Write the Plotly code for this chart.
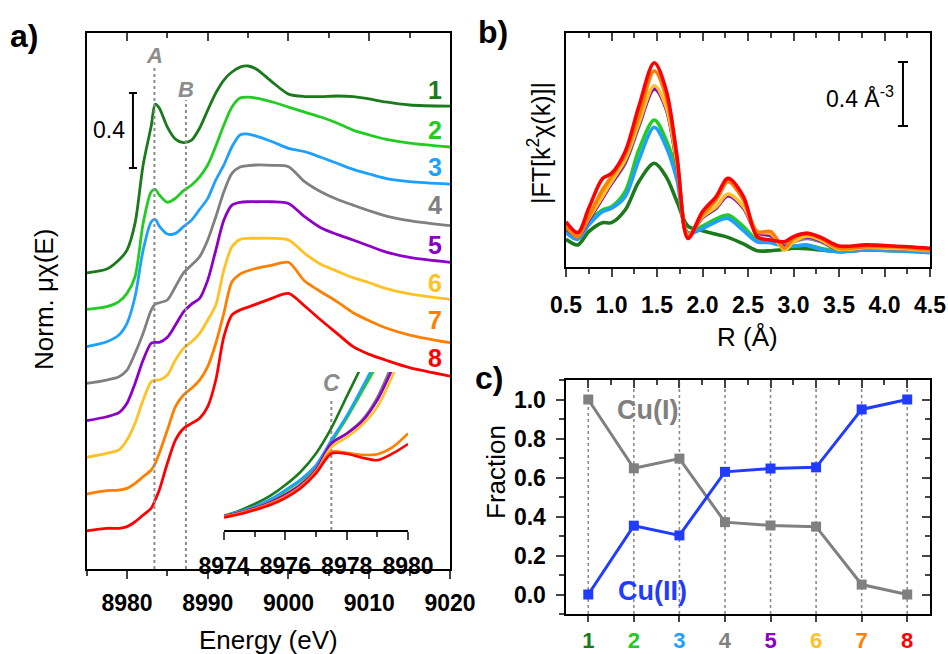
import plotly.graph_objects as go

FONT = "Liberation Sans, Arial, sans-serif"

# ---------------- panel a: Cu K-edge XANES, stacked ----------------
energy = [8975, 8977.5, 8979, 8980, 8981, 8982, 8983, 8983.5, 8984, 8985, 8986,
          8987, 8988, 8989, 8990, 8991, 8992, 8993, 8994, 8995, 8996, 8998,
          9000, 9002, 9004, 9006, 9008, 9010, 9012, 9015, 9020]

# normalised absorption, each spectrum shifted vertically for display
mu_1 = [1.580, 1.600, 1.648, 1.701, 1.845, 2.155, 2.363, 2.480, 2.459, 2.357, 2.293,
        2.274, 2.288, 2.352, 2.448, 2.539, 2.608, 2.651, 2.677, 2.683, 2.667, 2.597,
        2.533, 2.520, 2.520, 2.523, 2.520, 2.507, 2.491, 2.475, 2.469]
mu_2 = [1.385, 1.399, 1.426, 1.470, 1.559, 1.844, 2.012, 2.025, 1.995, 1.956, 1.977,
        2.018, 2.048, 2.092, 2.155, 2.256, 2.368, 2.464, 2.512, 2.517, 2.512, 2.491,
        2.464, 2.437, 2.411, 2.379, 2.341, 2.315, 2.293, 2.272, 2.251]
mu_3 = [1.186, 1.212, 1.248, 1.310, 1.452, 1.701, 1.852, 1.865, 1.829, 1.787, 1.790,
        1.826, 1.861, 1.918, 1.977, 2.075, 2.155, 2.252, 2.315, 2.320, 2.309, 2.279,
        2.244, 2.226, 2.196, 2.164, 2.132, 2.107, 2.084, 2.066, 2.053]
mu_4 = [0.990, 1.008, 1.026, 1.061, 1.150, 1.257, 1.381, 1.413, 1.420, 1.435, 1.506,
        1.580, 1.621, 1.666, 1.755, 1.879, 2.012, 2.110, 2.144, 2.151, 2.155, 2.153,
        2.146, 2.066, 2.012, 1.972, 1.941, 1.911, 1.884, 1.858, 1.831]
mu_5 = [0.791, 0.812, 0.834, 0.884, 0.990, 1.115, 1.204, 1.209, 1.209, 1.236, 1.301,
        1.372, 1.413, 1.444, 1.541, 1.701, 1.861, 1.941, 1.956, 1.959, 1.959, 1.959,
        1.950, 1.879, 1.820, 1.785, 1.755, 1.723, 1.692, 1.662, 1.636]
mu_6 = [0.596, 0.617, 0.635, 0.688, 0.777, 0.901, 0.999, 1.008, 1.008, 1.035, 1.115,
        1.177, 1.212, 1.257, 1.328, 1.408, 1.595, 1.719, 1.758, 1.764, 1.764, 1.764,
        1.755, 1.684, 1.625, 1.589, 1.554, 1.527, 1.497, 1.467, 1.438]
mu_7 = [0.400, 0.418, 0.421, 0.430, 0.457, 0.492, 0.528, 0.564, 0.617, 0.741, 0.866,
        0.928, 0.964, 1.008, 1.079, 1.204, 1.365, 1.532, 1.573, 1.591, 1.604, 1.621,
        1.636, 1.536, 1.479, 1.426, 1.367, 1.324, 1.287, 1.248, 1.207]
mu_8 = [0.203, 0.217, 0.217, 0.226, 0.252, 0.288, 0.324, 0.368, 0.421, 0.564, 0.688,
        0.750, 0.777, 0.804, 0.866, 1.008, 1.239, 1.355, 1.381, 1.397, 1.413, 1.445,
        1.470, 1.403, 1.328, 1.257, 1.186, 1.145, 1.115, 1.074, 1.029]

sample_names = ["1", "2", "3", "4", "5", "6", "7", "8"]
sample_colors = ["#1b7a1b", "#22cc22", "#1ea0ff", "#808080",
                 "#8c00c8", "#ffc125", "#ff8000", "#ff0000"]
label_y = [2.555, 2.341, 2.144, 1.941, 1.728, 1.525, 1.328, 1.125]

feature_names = ["A", "B"]
feature_energy = [8983.4, 8987.3]
feature_top = [2.672, 2.501]
feature_label_y = [2.741, 2.560]

scale_a = 0.4
scale_a_x = 8980.74
scale_a_mid = 2.339

# ---------------- inset: pre-edge region ----------------
inset_e_1 = [8974, 8974.5, 8975, 8975.5, 8976, 8976.5, 8977, 8977.5, 8978, 8978.4]
inset_1 = [0.040, 0.055, 0.074, 0.097, 0.128, 0.166, 0.218, 0.290, 0.380, 0.451]
inset_e_2 = [8974, 8974.5, 8975, 8975.5, 8976, 8976.5, 8977, 8977.5, 8978, 8978.5, 8978.87]
inset_2 = [0.040, 0.052, 0.066, 0.085, 0.111, 0.141, 0.180, 0.250, 0.318, 0.394, 0.451]
inset_e_3 = [8974, 8974.5, 8975, 8975.5, 8976, 8976.5, 8977, 8977.5, 8978, 8978.5, 8978.78]
inset_3 = [0.040, 0.052, 0.066, 0.087, 0.114, 0.144, 0.185, 0.256, 0.325, 0.405, 0.451]
inset_e_4 = [8974, 8974.5, 8975, 8975.5, 8976, 8976.5, 8977, 8977.5, 8978, 8978.5, 8979, 8979.38]
inset_4 = [0.040, 0.050, 0.063, 0.079, 0.102, 0.131, 0.174, 0.245, 0.275, 0.313, 0.378, 0.451]
inset_e_5 = [8974, 8974.5, 8975, 8975.5, 8976, 8976.5, 8977, 8977.5, 8978, 8978.5, 8979, 8979.45]
inset_5 = [0.040, 0.049, 0.062, 0.078, 0.100, 0.128, 0.171, 0.247, 0.274, 0.309, 0.370, 0.451]
inset_e_6 = [8974, 8974.5, 8975, 8975.5, 8976, 8976.5, 8977, 8977.5, 8978, 8978.5, 8979, 8979.55]
inset_6 = [0.038, 0.047, 0.059, 0.074, 0.095, 0.123, 0.166, 0.236, 0.264, 0.299, 0.351, 0.451]
inset_e_7 = [8974, 8974.5, 8975, 8975.5, 8976, 8976.5, 8977, 8977.5, 8978, 8978.5, 8979, 8979.5, 8980]
inset_7 = [0.038, 0.047, 0.060, 0.075, 0.095, 0.123, 0.166, 0.223, 0.220, 0.214, 0.216, 0.236, 0.275]
inset_e_8 = [8974, 8974.5, 8975, 8975.5, 8976, 8976.5, 8977, 8977.5, 8978, 8978.5, 8979, 8979.5, 8980]
inset_8 = [0.036, 0.045, 0.057, 0.071, 0.091, 0.119, 0.161, 0.218, 0.217, 0.206, 0.199, 0.218, 0.245]

feature_c_energy = 8977.5
feature_c_top = 0.375
feature_c_label_y = 0.419

# ---------------- panel b: Fourier transform magnitude ----------------
r_grid = [0.5, 0.63, 0.75, 0.9, 1.0, 1.15, 1.3, 1.47, 1.6, 1.72, 1.84, 2.0, 2.15,
          2.28, 2.45, 2.6, 2.75, 2.9, 3.0, 3.15, 3.3, 3.5, 3.8, 4.1, 4.5]
ft_1 = [0.173, 0.138, 0.221, 0.277, 0.277, 0.356, 0.533, 0.648, 0.565, 0.408, 0.256,
        0.227, 0.204, 0.185, 0.144, 0.102, 0.102, 0.110, 0.117, 0.115, 0.106, 0.096,
        0.106, 0.102, 0.096]
ft_2 = [0.231, 0.185, 0.283, 0.356, 0.377, 0.471, 0.731, 0.919, 0.794, 0.585, 0.215,
        0.256, 0.300, 0.325, 0.252, 0.169, 0.163, 0.138, 0.131, 0.138, 0.117, 0.100,
        0.110, 0.106, 0.100]
ft_3 = [0.215, 0.173, 0.263, 0.346, 0.367, 0.440, 0.669, 0.873, 0.752, 0.544, 0.210,
        0.240, 0.283, 0.304, 0.227, 0.158, 0.152, 0.127, 0.131, 0.135, 0.110, 0.096,
        0.106, 0.102, 0.090]
ft_4 = [0.252, 0.185, 0.304, 0.450, 0.523, 0.648, 0.877, 1.123, 0.992, 0.638, 0.200,
        0.310, 0.367, 0.450, 0.367, 0.215, 0.194, 0.131, 0.158, 0.179, 0.158, 0.106,
        0.117, 0.113, 0.102]
ft_5 = [0.242, 0.194, 0.294, 0.429, 0.523, 0.658, 0.888, 1.113, 0.992, 0.638, 0.200,
        0.310, 0.371, 0.446, 0.371, 0.215, 0.200, 0.127, 0.169, 0.190, 0.165, 0.110,
        0.121, 0.117, 0.106]
ft_6 = [0.263, 0.200, 0.304, 0.440, 0.533, 0.669, 0.898, 1.133, 1.002, 0.648, 0.200,
        0.315, 0.377, 0.456, 0.377, 0.221, 0.210, 0.106, 0.158, 0.194, 0.169, 0.110,
        0.121, 0.117, 0.102]
ft_7 = [0.252, 0.190, 0.315, 0.481, 0.565, 0.700, 0.940, 1.227, 1.065, 0.669, 0.190,
        0.325, 0.419, 0.533, 0.419, 0.221, 0.221, 0.117, 0.179, 0.210, 0.179, 0.117,
        0.127, 0.127, 0.106]
ft_8 = [0.283, 0.215, 0.367, 0.552, 0.585, 0.721, 1.002, 1.277, 1.106, 0.690, 0.179,
        0.346, 0.440, 0.554, 0.440, 0.190, 0.169, 0.158, 0.190, 0.210, 0.185, 0.131,
        0.138, 0.131, 0.117]

scale_b = 0.4
scale_b_x = 4.203
scale_b_mid = 1.081

# ---------------- panel c: linear-combination fractions ----------------
samples = [1, 2, 3, 4, 5, 6, 7, 8]
cu1_fraction = [1.0, 0.647, 0.697, 0.371, 0.354, 0.348, 0.051, 0.0]
cu2_fraction = [0.0, 0.353, 0.303, 0.629, 0.646, 0.652, 0.949, 1.0]
frac_min, frac_max = -0.1, 1.1

CU1_COLOR = "#808080"
CU2_COLOR = "#1f3cff"
DOT_COLOR = "#8c8c8c"

W, H = 948, 654


def px_x(px):
    return px / W


def px_y(py):
    return 1 - py / H


fig = go.Figure()

# panel a spectra
mu_all = [mu_1, mu_2, mu_3, mu_4, mu_5, mu_6, mu_7, mu_8]
for name, ys, col in zip(sample_names, mu_all, sample_colors):
    fig.add_trace(go.Scatter(x=energy, y=ys, mode="lines", name=name,
                             line=dict(color=col, width=2.8, shape="spline", smoothing=0.8),
                             xaxis="x", yaxis="y", showlegend=False))

for e, top in zip(feature_energy, feature_top):
    fig.add_trace(go.Scatter(x=[e, e], y=[0, top], mode="lines",
                             line=dict(color=DOT_COLOR, width=2, dash="dot"),
                             xaxis="x", yaxis="y", showlegend=False, hoverinfo="skip"))

# 0.4 scale bar
fig.add_trace(go.Scatter(x=[scale_a_x], y=[scale_a_mid], mode="markers",
                         marker=dict(size=1, color="rgba(0,0,0,0)"),
                         error_y=dict(type="constant", value=scale_a / 2, color="black",
                                      thickness=2, width=4),
                         xaxis="x", yaxis="y", showlegend=False, hoverinfo="skip"))

# inset spectra
inset_e_all = [inset_e_1, inset_e_2, inset_e_3, inset_e_4, inset_e_5, inset_e_6, inset_e_7, inset_e_8]
inset_all = [inset_1, inset_2, inset_3, inset_4, inset_5, inset_6, inset_7, inset_8]
fig.add_trace(go.Scatter(x=[feature_c_energy, feature_c_energy], y=[0, feature_c_top],
                         mode="lines", line=dict(color=DOT_COLOR, width=2, dash="dot"),
                         xaxis="x2", yaxis="y2", showlegend=False, hoverinfo="skip"))
for xs, ys, col in zip(inset_e_all, inset_all, sample_colors):
    fig.add_trace(go.Scatter(x=xs, y=ys, mode="lines",
                             line=dict(color=col, width=2.6, shape="spline", smoothing=0.8),
                             xaxis="x2", yaxis="y2", showlegend=False))

# panel b FT curves
ft_all = [ft_1, ft_2, ft_3, ft_4, ft_5, ft_6, ft_7, ft_8]
for name, ys, col in zip(sample_names, ft_all, sample_colors):
    fig.add_trace(go.Scatter(x=r_grid, y=ys, mode="lines", name=name,
                             line=dict(color=col, width=3.6, shape="spline", smoothing=0.9),
                             xaxis="x3", yaxis="y3", showlegend=False))
fig.add_trace(go.Scatter(x=[scale_b_x], y=[scale_b_mid], mode="markers",
                         marker=dict(size=1, color="rgba(0,0,0,0)"),
                         error_y=dict(type="constant", value=scale_b / 2, color="black",
                                      thickness=2, width=5),
                         xaxis="x3", yaxis="y3", showlegend=False, hoverinfo="skip"))

# panel c guides and fractions
guide_x, guide_y = [], []
for s in samples:
    guide_x += [s, s, None]
    guide_y += [frac_min, frac_max, None]
fig.add_trace(go.Scatter(x=guide_x, y=guide_y, mode="lines",
                         line=dict(color=DOT_COLOR, width=1.6, dash="dot"),
                         xaxis="x4", yaxis="y4", showlegend=False, hoverinfo="skip"))
fig.add_trace(go.Scatter(x=samples, y=cu1_fraction, mode="lines+markers", name="Cu(I)",
                         line=dict(color=CU1_COLOR, width=3),
                         marker=dict(symbol="square", size=10, color=CU1_COLOR),
                         xaxis="x4", yaxis="y4", showlegend=False, cliponaxis=False))
fig.add_trace(go.Scatter(x=samples, y=cu2_fraction, mode="lines+markers", name="Cu(II)",
                         line=dict(color=CU2_COLOR, width=3),
                         marker=dict(symbol="square", size=10, color=CU2_COLOR),
                         xaxis="x4", yaxis="y4", showlegend=False, cliponaxis=False))

# empty traces that register the mirrored frame axes
for xa, ya in [("x5", "y"), ("x6", "y3"), ("x7", "y4"), ("x4", "y5")]:
    fig.add_trace(go.Scatter(x=[], y=[], xaxis=xa, yaxis=ya, showlegend=False,
                             hoverinfo="skip"))

tick_font = dict(family=FONT, size=23, color="black", weight="bold")
frame = dict(showline=True, linewidth=2, linecolor="black", showgrid=False,
             zeroline=False, automargin=False)

dom_a_x = [px_x(86.6), px_x(450)]
dom_a_y = [px_y(569), px_y(33)]
dom_b_x = [px_x(566), px_x(930)]
dom_b_y = [px_y(267), px_y(33)]
dom_c_x = [px_x(565.5), px_x(930)]
dom_c_y = [px_y(614), px_y(380)]

e_range = [8975, 9020]
r_range = [0.5, 4.5]
s_range = [0.5, 8.5]

tick_text_c = ['<span style="color:%s">%s</span>' % (c, n)
               for c, n in zip(sample_colors, sample_names)]

fig.update_layout(
    template="none",
    width=W, height=H,
    margin=dict(l=0, r=0, t=0, b=0, pad=0),
    paper_bgcolor="white", plot_bgcolor="rgba(0,0,0,0)",
    font=dict(family=FONT, color="black"),
    showlegend=False,
    # panel a
    xaxis=dict(domain=dom_a_x, anchor="y", range=e_range, **frame,
               ticks="outside", ticklen=8, tickwidth=2, tick0=8980, dtick=10,
               minor=dict(dtick=5, ticks="outside", ticklen=5, tickwidth=2),
               tickfont=tick_font, ticklabelstandoff=4),
    yaxis=dict(domain=dom_a_y, anchor="x", range=[0, 2.859], **frame, mirror=True,
               ticks="", showticklabels=False),
    xaxis5=dict(overlaying="x", side="top", anchor="y", range=e_range, **frame,
                ticks="inside", ticklen=8, tickwidth=2, tick0=8980, dtick=10,
                minor=dict(dtick=5, ticks="inside", ticklen=5, tickwidth=2),
                showticklabels=False),
    # inset
    xaxis2=dict(domain=[px_x(224), px_x(408)], anchor="y2", range=[8974, 8980], **frame,
                ticks="outside", ticklen=8, tickwidth=2, tick0=8974, dtick=2,
                minor=dict(dtick=1, ticks="outside", ticklen=5, tickwidth=2),
                tickfont=tick_font, ticklabelstandoff=6),
    yaxis2=dict(domain=[px_y(530), px_y(372)], anchor="x2", range=[0, 0.45],
                visible=False),
    # panel b
    xaxis3=dict(domain=dom_b_x, anchor="y3", range=r_range, **frame,
                ticks="outside", ticklen=8, tickwidth=2, tick0=0.5, dtick=0.5,
                tickformat=".1f",
                minor=dict(dtick=0.25, ticks="outside", ticklen=5, tickwidth=2),
                tickfont=tick_font, ticklabelstandoff=8),
    yaxis3=dict(domain=dom_b_y, anchor="x3", range=[0, 1.4625], **frame, mirror=True,
                ticks="", showticklabels=False),
    xaxis6=dict(overlaying="x3", side="top", anchor="y3", range=r_range, **frame,
                ticks="inside", ticklen=8, tickwidth=2, tick0=0.5, dtick=0.5,
                minor=dict(dtick=0.25, ticks="inside", ticklen=5, tickwidth=2),
                showticklabels=False),
    # panel c
    xaxis4=dict(domain=dom_c_x, anchor="y4", range=s_range, **frame,
                ticks="outside", ticklen=6, tickwidth=2,
                tickvals=samples, ticktext=tick_text_c,
                tickfont=dict(family=FONT, size=22, weight="bold"),
                ticklabelstandoff=0),
    yaxis4=dict(domain=dom_c_y, anchor="x4", range=[frac_min, frac_max], **frame,
                ticks="outside", ticklen=8, tickwidth=2, tick0=0, dtick=0.2,
                tickformat=".1f",
                minor=dict(dtick=0.1, ticks="outside", ticklen=5, tickwidth=2),
                tickfont=tick_font, ticklabelstandoff=5),
    xaxis7=dict(overlaying="x4", side="top", anchor="y4", range=s_range, **frame,
                ticks="inside", ticklen=8, tickwidth=2, tick0=1, dtick=1,
                minor=dict(dtick=0.5, ticks="inside", ticklen=5, tickwidth=2),
                showticklabels=False),
    yaxis5=dict(overlaying="y4", side="right", anchor="x4", range=[frac_min, frac_max],
                **frame, ticks="inside", ticklen=8, tickwidth=2, tick0=0, dtick=0.2,
                minor=dict(dtick=0.1, ticks="inside", ticklen=5, tickwidth=2),
                showticklabels=False),
)

ann = []


def paper_text(text, x, y, size, bold=False, color="black", angle=0,
               xanchor="center", yanchor="middle", italic=False):
    if italic:
        text = "<i>%s</i>" % text
    ann.append(dict(text=text, x=x, y=y, xref="paper", yref="paper",
                    xanchor=xanchor, yanchor=yanchor, textangle=angle, showarrow=False,
                    font=dict(family=FONT, size=size, color=color,
                              weight="bold" if bold else "normal")))


def data_text(text, x, y, xref, yref, size, color="black", bold=True, italic=False,
              xanchor="center", yanchor="middle"):
    if italic:
        text = "<i>%s</i>" % text
    ann.append(dict(text=text, x=x, y=y, xref=xref, yref=yref, xanchor=xanchor,
                    yanchor=yanchor, showarrow=False,
                    font=dict(family=FONT, size=size, color=color,
                              weight="bold" if bold else "normal")))


# panel letters
paper_text("a)", px_x(8), px_y(36), 32, bold=True, xanchor="left")
paper_text("b)", px_x(476), px_y(32), 32, bold=True, xanchor="left")
paper_text("c)", px_x(473), px_y(378), 32, bold=True, xanchor="left")

# axis titles
paper_text("Norm. μχ(E)", px_x(44), px_y(300), 26, angle=-90)
paper_text("Energy (eV)", px_x(268), px_y(640), 26)
paper_text("|FT[k<sup>2</sup>χ(k)]|", px_x(539), px_y(143), 25, angle=-90)
paper_text("R (Å)", px_x(747), px_y(337), 26)
paper_text("Fraction", px_x(496), px_y(472), 26, angle=-90)

# panel a labels
for name, y, col in zip(sample_names, label_y, sample_colors):
    data_text(name, 9019.3, y, "x", "y", 25, color=col, xanchor="right")
for name, e, y in zip(feature_names, feature_energy, feature_label_y):
    data_text(name, e, y, "x", "y", 22, color="#8c8c8c", italic=True)
data_text("%.1f" % scale_a, 8980.0, scale_a_mid, "x", "y", 23, bold=False,
          xanchor="right")
data_text("C", feature_c_energy, feature_c_label_y, "x2", "y2", 23, color="#8c8c8c",
          italic=True)

# panel b scale label
data_text("%.1f Å<sup>-3</sup>" % scale_b, 4.13, scale_b_mid - 0.02, "x3", "y3", 23,
          bold=False, xanchor="right")

# panel c series labels
data_text("Cu(I)", 2.29, 0.945, "x4", "y4", 27, color=CU1_COLOR)
data_text("Cu(II)", 2.4, 0.02, "x4", "y4", 27, color=CU2_COLOR)

fig.update_layout(annotations=ann)

fig.write_html("out.html")
